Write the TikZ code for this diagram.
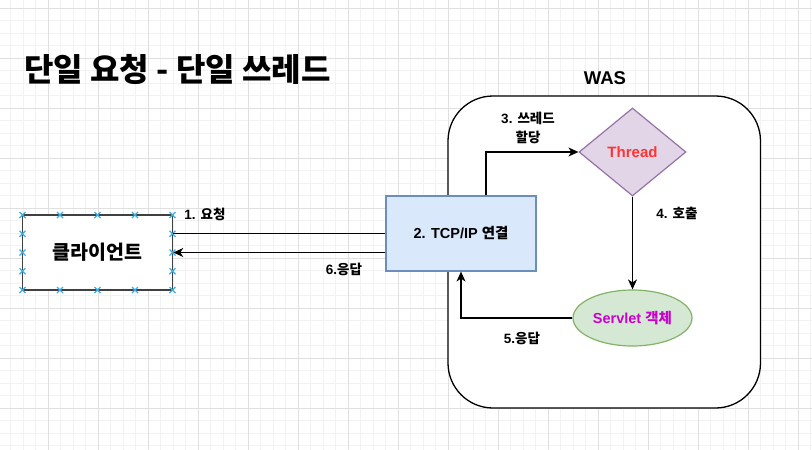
\documentclass[tikz,border=0pt]{standalone}
\usepackage{fontspec}
\setmainfont{Liberation Sans}
\newfontfamily\kr{Noto Sans CJK KR}
\usetikzlibrary{shapes.geometric,arrows.meta}
\definecolor{gridminor}{HTML}{F2F2F2}
\definecolor{gridmajor}{HTML}{E0E0E0}
\definecolor{xmark}{HTML}{3BAEE8}
\definecolor{tcpfill}{HTML}{DAE8FC}
\definecolor{tcpdraw}{HTML}{6C8EBF}
\definecolor{thrfill}{HTML}{E1D5E7}
\definecolor{thrdraw}{HTML}{9673A6}
\definecolor{srvfill}{HTML}{D5E8D4}
\definecolor{srvdraw}{HTML}{82B366}
\definecolor{thrtext}{HTML}{FF3333}
\definecolor{srvtext}{HTML}{CC00CC}
\tikzset{
  conn/.style={line width=1.2pt, draw=black},
  arr/.style={conn, -{Stealth[length=10pt,width=9pt,inset=3pt]}},
  lbl/.style={font=\bfseries\fontsize{13.5}{15}\selectfont, inner sep=0pt, align=center},
  xm/.style={draw=xmark, line width=1.2pt},
}
\begin{document}
\begin{tikzpicture}[x=1pt,y=-1pt]
\useasboundingbox (0,0) rectangle (812,450);
\fill[white] (0,0) rectangle (812,450);
% grid
\foreach \i in {-3,...,62} {
  \draw[gridminor, line width=0.8pt] ({48+12.5*\i},0) -- ({48+12.5*\i},450);
}
\foreach \j in {0,...,36} {
  \draw[gridminor, line width=0.8pt] (0,{8+12.5*\j}) -- (812,{8+12.5*\j});
}
\foreach \i in {-1,...,15} {
  \draw[gridmajor, line width=0.8pt] ({48+50*\i},0) -- ({48+50*\i},450);
}
\foreach \j in {0,...,9} {
  \draw[gridmajor, line width=0.8pt] (0,{8+50*\j}) -- (812,{8+50*\j});
}

% title
\node[font=\kr\bfseries\fontsize{32}{36}\selectfont, anchor=west, inner sep=0pt] (title) at (24,69) {단일 요청 - 단일 쓰레드};

% WAS container
\draw[line width=1.3pt, fill=white, rounded corners=45pt] (448,96) rectangle (760.5,408);
\node[font=\bfseries\fontsize{18.5}{20}\selectfont, inner sep=0pt] (was) at (605,78) {WAS};

% client
\node[draw=black!75, line width=1.5pt, fill=white, minimum width=150pt, minimum height=75pt, inner sep=0pt,
      font=\kr\bfseries\fontsize{19.5}{22}\selectfont] (client) at (97.5,252.5) {클라이언트};
\foreach \px in {22.5,60,97.5,135,172.5} {
  \foreach \py in {215,290} {
    \draw[xm] (\px-3,\py-3) -- (\px+3,\py+3) (\px-3,\py+3) -- (\px+3,\py-3);
  }
}
\foreach \py in {233.75,252.5,271.25} {
  \foreach \px in {22.5,172.5} {
    \draw[xm] (\px-3,\py-3) -- (\px+3,\py+3) (\px-3,\py+3) -- (\px+3,\py-3);
  }
}

% TCP box
\node[draw=tcpdraw, fill=tcpfill, line width=1.2pt, minimum width=150pt, minimum height=75pt, inner sep=0pt,
      font=\bfseries\fontsize{14.5}{16}\selectfont] (tcp) at (461,233.5) {2. TCP/IP {\kr 연결}};

% Thread diamond
\node[diamond, draw=thrdraw, fill=thrfill, line width=1.2pt, minimum width=107pt, minimum height=88pt, inner sep=0pt,
      text=thrtext, font=\bfseries\fontsize{15}{17}\selectfont] (thread) at (632.5,152) {Thread};

% Servlet ellipse
\node[ellipse, draw=srvdraw, fill=srvfill, line width=1.2pt, minimum width=119pt, minimum height=56pt, inner sep=0pt,
      text=srvtext, font=\bfseries\fontsize{14.5}{16}\selectfont] (servlet) at (632.5,318) {Servlet {\kr 객체}};

% connectors
\draw[conn] (client.east |- 0,233.75) -- (tcp.west |- 0,233.75);
\draw[arr] (tcp.west |- 0,252.5) -- (client.east |- 0,252.5);
\draw[arr] (tcp.north -| 486,0) |- (thread.west);
\draw[arr] (thread.south) -- (servlet.north);
\draw[arr] (servlet.west) -| (tcp.south);

% labels
\node[lbl] (l1) at (205,214) {1. {\kr 요청}};
\node[lbl] (l6) at (344,269) {6.{\kr 응답}};
\node[lbl, font=\bfseries\fontsize{13.5}{19}\selectfont] (l3) at (528,127.5) {3. {\kr 쓰레드}\\{\kr 할당}};
\node[lbl] (l4) at (677,213) {4. {\kr 호출}};
\node[lbl] (l5) at (522,338) {5.{\kr 응답}};
\end{tikzpicture}
\end{document}
